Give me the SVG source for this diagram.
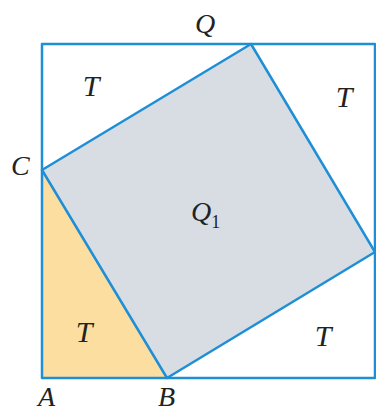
<svg xmlns="http://www.w3.org/2000/svg" width="376" height="413" viewBox="0 0 376 413">
<style>
.edge{fill:none;stroke:#1e8fd6;stroke-width:2.5;stroke-linejoin:round}
.lbl{font-family:"Liberation Serif","DejaVu Serif",serif;font-style:italic;font-size:28px;fill:#222}
.t{font-family:"Liberation Serif","DejaVu Serif",serif;font-style:italic;font-size:30px;fill:#222;text-anchor:middle}
</style>
<rect width="376" height="413" fill="#ffffff"/>
<g id="triangle-ABC">
<polygon points="42,170 42,378 167,378" fill="#fcdfa0"/>
</g>
<g id="square-Q1">
<polygon points="42,170 251,44 375,252 167,378" fill="#d8dde4"/>
</g>
<g id="connectors">
<rect class="edge" x="42" y="44" width="333" height="334"/>
<polygon class="edge" points="42,170 251,44 375,252 167,378"/>
</g>
<g id="labels">
<text class="lbl" x="195" y="33">Q</text>
<text class="lbl" x="11" y="175">C</text>
<text class="lbl" x="38" y="406">A</text>
<text class="lbl" x="158" y="406">B</text>
<text class="lbl" x="191" y="221">Q<tspan font-size="18" dy="7" font-style="normal">1</tspan></text>
<text class="t" x="91" y="96">T</text>
<text class="t" x="344" y="107">T</text>
<text class="t" x="84" y="342">T</text>
<text class="t" x="323" y="346">T</text>
</g>
</svg>
